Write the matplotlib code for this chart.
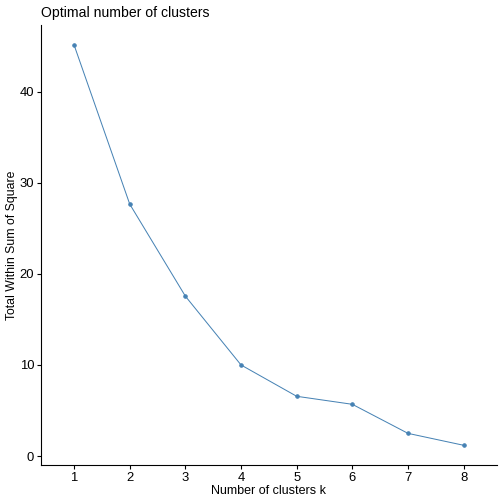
import numpy as np
import matplotlib.pyplot as plt

plt.rcParams['font.family'] = ['Liberation Sans', 'DejaVu Sans']

# значения
k = [1, 2, 3, 4, 5, 6, 7, 8]
wss = [45.13, 27.66, 17.55, 10.0, 6.56, 5.68, 2.49, 1.18]
y_ticks = [0, 10, 20, 30, 40]

fig = plt.figure(figsize=(7, 7), dpi=72)
ax = fig.add_axes([40.7 / 504, 38.7 / 504, (497 - 40.7) / 504, (465.3 - 25) / 504])

ax.plot(k, wss, color='#4682B4', linewidth=1.0)
ax.plot(k, wss, 'o', color='#4682B4', markersize=3.5)

ax.set_xlim(0.4, 8.6)
span = max(wss) - min(wss)
ax.set_ylim(min(wss) - 0.05 * span, max(wss) + 0.05 * span)
ax.set_xticks(k)
ax.set_yticks(y_ticks)

for s in ['top', 'right']:
    ax.spines[s].set_visible(False)
for s in ['left', 'bottom']:
    ax.spines[s].set_linewidth(1.1)

ax.tick_params(axis='both', labelsize=13, length=4, width=1.1, colors='black', pad=2.5)
ax.set_xlabel('Number of clusters k', fontsize=12.5, labelpad=1)
ax.set_ylabel('Total Within Sum of Square', fontsize=12.3, labelpad=2)
ax.set_title('Optimal number of clusters', fontsize=14, loc='left', x=0, pad=8)

fig.savefig('out.png', dpi=72)
